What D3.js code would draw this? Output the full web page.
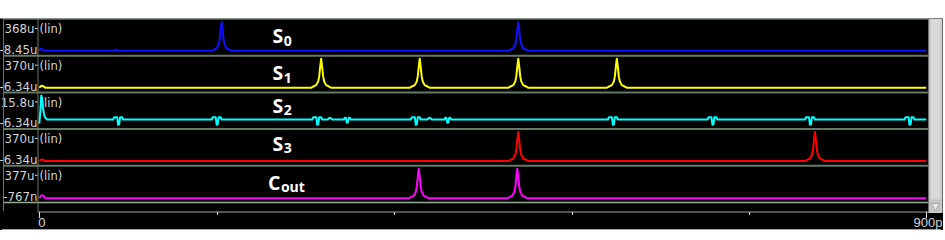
<!DOCTYPE html>
<html><head><meta charset="utf-8">
<script src="https://cdn.jsdelivr.net/npm/d3@7"></script>
<style>html,body{margin:0;padding:0;background:#fff;} svg{display:block}</style>
</head><body>
<svg id="c" width="945" height="240"></svg>
<script>
// ---------- data ----------
const labelMain = ["S", "S", "S", "S", "C"];
const labelSub = ["0", "1", "2", "3", "out"];
const colors = ["#1010ff", "#ffff00", "#00ffff", "#ff0000", "#ff00ff"];
const yMaxLabels = ["368u", "370u", "15.8u", "370u", "377u"];
const yMinLabels = ["-8.45u", "-6.34u", "-6.34u", "-6.34u", "-767n"];
const yMax = [368, 370, 15.8, 370, 377];        // in u
const yMin = [-8.45, -6.34, -6.34, -6.34, -0.767];
const xTicks = [0, 180, 360, 540, 720, 900];     // in p
const xTickLabels = ["0", "", "", "", "", "900p"];

// [time (p), value (u)]
const s0 = [[0,0],[1,22],[3,22],[5,0],[76,0],[78,16],[80,0],
 [175,0],[177,14],[180,33],[182,81],[183,144],[184,265],[185,368],[186,265],[187,144],[188,81],[190,33],[193,14],[195,0],
 [476,0],[478,14],[481,33],[483,81],[484,144],[485,265],[486,368],[487,265],[488,144],[489,81],[491,33],[494,14],[496,0],
 [900,0]];
const s1 = [[0,0],[2,24],[4,20],[6,0],
 [276,0],[278,15],[281,33],[283,81],[284,144],[285,266],[286,370],[287,266],[288,144],[289,81],[291,33],[294,15],[296,0],
 [376,0],[378,15],[381,33],[383,81],[384,144],[385,266],[386,370],[387,266],[388,144],[389,81],[391,33],[394,15],[396,0],
 [476,0],[478,15],[481,33],[483,81],[484,144],[485,266],[486,370],[487,266],[488,144],[489,81],[491,33],[494,15],[496,0],
 [576,0],[578,15],[581,33],[583,81],[584,144],[585,266],[586,370],[587,266],[588,144],[589,81],[591,33],[594,15],[596,0],
 [900,0]];
const s2 = [[0,-5.5],[1,3],[2,15.8],[3,13],[4,5],[5,1],[6,-0.8],[8,-2.3],
 [75,-2.3],[76,-0.6],[79,-0.6],[80,-6.3],[81,-6.0],[82,-0.6],[84,-0.6],[85,-2.3],
 [175,-2.3],[176,-0.6],[179,-0.6],[180,-6.3],[181,-6.0],[182,-0.6],[184,-0.6],[185,-2.3],
 [277,-2.3],[278,-0.6],[281,-0.6],[282,-6.3],[283,-6.0],[284,-0.6],[286,-0.6],[287,-2.3],
 [293,-2.3],[294,-1.1],[296,-1.1],[297,-2.3],
 [309,-2.3],[310,-0.9],[311,-1.0],[312,-4.8],[313,-4.4],[314,-1.0],[315,-0.9],[316,-2.3],
 [377,-2.3],[378,-0.6],[381,-0.6],[382,-6.3],[383,-6.0],[384,-0.6],[386,-0.6],[387,-2.3],
 [394,-2.3],[395,-1.1],[397,-1.1],[398,-2.3],
 [411,-2.3],[412,-0.9],[413,-1.0],[414,-4.8],[415,-4.4],[416,-1.0],[417,-0.9],[418,-2.3],
 [577,-2.3],[578,-0.6],[581,-0.6],[582,-6.3],[583,-6.0],[584,-0.6],[586,-0.6],[587,-2.3],
 [678,-2.3],[679,-0.6],[682,-0.6],[683,-6.3],[684,-6.0],[685,-0.6],[687,-0.6],[688,-2.3],
 [777,-2.3],[778,-0.6],[781,-0.6],[782,-6.3],[783,-6.0],[784,-0.6],[786,-0.6],[787,-2.3],
 [878,-2.3],[879,-0.6],[882,-0.6],[883,-6.3],[884,-6.0],[885,-0.6],[887,-0.6],[888,-2.3],
 [900,-2.3]];
const s3 = [[0,0],[2,20],[4,18],[6,0],
 [476,0],[478,15],[481,33],[483,81],[484,144],[485,266],[486,370],[487,266],[488,144],[489,81],[491,33],[494,15],[496,0],
 [777,0],[779,15],[782,33],[784,81],[785,144],[786,266],[787,370],[788,266],[789,144],[790,81],[792,33],[795,15],[797,0],
 [900,0]];
const cout = [[0,0],[2,38],[4,36],[6,0],
 [375,0],[377,15],[380,34],[382,83],[383,147],[384,271],[385,377],[386,271],[387,147],[388,83],[390,34],[393,15],[395,0],
 [475,0],[477,15],[480,34],[482,83],[483,147],[484,271],[485,377],[486,271],[487,147],[488,83],[490,34],[493,15],[495,0],
 [900,0]];
const series = [s0, s1, s2, s3, cout];

// ---------- layout ----------
const svg = d3.select("#c");
const X0 = 39.3, X1 = 926.3;
const rowTop0 = 19, rowH = 36.7;
const nameBaseline = [24.3, 24.4, 20.5, 21.5, 24];
const x = d3.scaleLinear().domain([0, 900]).range([X0, X1]);
const lineCol = "#647a64", lightCol = "#93ab93", textCol = "#d4d4d4";

svg.append("rect").attr("x", 0).attr("y", 18.5).attr("width", 943).attr("height", 211.5).attr("fill", "#000");

// rows
series.forEach((data, i) => {
  const top = rowTop0 + i * rowH;
  const y = d3.scaleLinear().domain([yMin[i], yMax[i]]).range([top + 32.5, top + 3]);
  const g = svg.append("g");
  if (i > 0) g.append("line").attr("x1", 3).attr("x2", 928).attr("y1", top).attr("y2", top)
      .attr("stroke", lineCol).attr("stroke-width", 2);
  g.append("text").attr("x", 34.5).attr("y", top + 14.3).attr("text-anchor", "end")
    .attr("font-family", "DejaVu Sans").attr("font-size", 11.8).attr("fill", textCol).text(yMaxLabels[i]);
  g.append("text").attr("x", 37.5).attr("y", top + 34.8).attr("text-anchor", "end")
    .attr("font-family", "DejaVu Sans").attr("font-size", 11.8).attr("fill", textCol).text(yMinLabels[i]);
  g.append("text").attr("x", 39.5).attr("y", top + 14.3)
    .attr("font-family", "DejaVu Sans").attr("font-size", 11.5).attr("fill", textCol).text("(lin)");
  g.append("line").attr("x1", 35).attr("x2", 38).attr("y1", top + 9.5).attr("y2", top + 9.5).attr("stroke", textCol);
  const t = g.append("text").attr("x", i === 4 ? 268 : 272.5).attr("y", top + nameBaseline[i])
    .attr("font-family", "Open Sans").attr("font-weight", 700).attr("font-size", 19.5).attr("fill", "#fff");
  t.append("tspan").text(labelMain[i]);
  t.append("tspan").attr("font-size", 14).attr("dy", 2.5).attr("dx", 0.5).text(labelSub[i]);
  const line = d3.line().x(d => x(d[0])).y(d => y(d[1]));
  g.append("path").datum(data).attr("d", line).attr("fill", "none")
    .attr("stroke", colors[i]).attr("stroke-width", 2).attr("stroke-linejoin", "round");
});

// frame lines
svg.append("line").attr("x1", 3).attr("x2", 928).attr("y1", 19).attr("y2", 19).attr("stroke", lightCol).attr("stroke-width", 1);
svg.append("line").attr("x1", 3).attr("x2", 928).attr("y1", rowTop0 + 5 * rowH).attr("y2", rowTop0 + 5 * rowH).attr("stroke", lightCol).attr("stroke-width", 1.5);
svg.append("line").attr("x1", 3.5).attr("x2", 3.5).attr("y1", 19).attr("y2", 211).attr("stroke", lineCol).attr("stroke-width", 1);
svg.append("line").attr("x1", 38).attr("x2", 38).attr("y1", 19).attr("y2", 212).attr("stroke", lineCol).attr("stroke-width", 1);

// x axis
const axisY = 212;
svg.append("line").attr("x1", 38).attr("x2", 929).attr("y1", axisY).attr("y2", axisY).attr("stroke", lightCol);
svg.append("line").attr("x1", 2).attr("x2", 941).attr("y1", 229.5).attr("y2", 229.5).attr("stroke", lightCol);
const ax = svg.append("g");
ax.selectAll("line.tk").data(xTicks).join("line").attr("class", "tk")
  .attr("x1", d => Math.round(x(d)) + 0.5).attr("x2", d => Math.round(x(d)) + 0.5)
  .attr("y1", axisY).attr("y2", (d, i) => xTickLabels[i] ? axisY + 6 : axisY + 3)
  .attr("stroke", "#e0e0e0");
ax.selectAll("text").data(xTicks).join("text")
  .attr("x", (d, i) => i === 0 ? x(d) - 1 : 942.5)
  .attr("y", 227)
  .attr("text-anchor", (d, i) => i === 0 ? "start" : "end")
  .attr("font-family", "Liberation Sans").attr("font-size", 13).attr("fill", textCol)
  .text((d, i) => xTickLabels[i]);

// scrollbar
svg.append("rect").attr("x", 928.5).attr("y", 19).attr("width", 14).attr("height", 194).attr("fill", "#cdcdcd");
svg.append("rect").attr("x", 931).attr("y", 19).attr("width", 9).attr("height", 180).attr("fill", "#d9d9d9");
svg.append("line").attr("x1", 929).attr("x2", 929).attr("y1", 19).attr("y2", 213).attr("stroke", "#8c8c8c").attr("stroke-dasharray", "1,1");
svg.append("rect").attr("x", 930).attr("y", 200).attr("width", 11).attr("height", 12).attr("fill", "#c4c4c4");
svg.append("path").attr("d", "M931.5,203.5 L939.5,203.5 L935.5,210.5 Z").attr("fill", "#e8e8e8").attr("stroke", "#a8a8a8");
</script>
</body></html>
